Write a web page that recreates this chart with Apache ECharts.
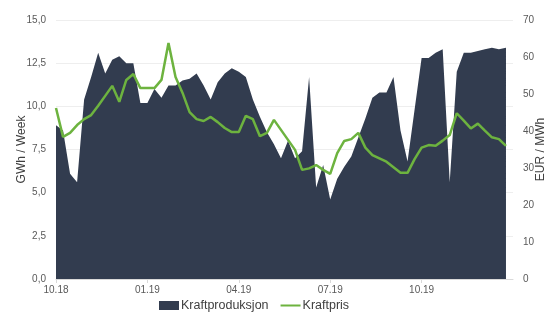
<!DOCTYPE html>
<html><head><meta charset="utf-8">
<script src="https://cdn.jsdelivr.net/npm/echarts@6/dist/echarts.min.js"></script>
<style>html,body{margin:0;padding:0;background:#fff}#c{width:551px;height:322px}</style>
</head><body><div id="c"></div>
<script>
const tickLabels = ['10.18','01.19','04.19','07.19','10.19'];
const weeks = 66;
const production = [8.9,8.6,6.1,5.6,10.4,11.7,13.1,11.9,12.7,12.9,12.5,12.5,10.2,10.2,11.0,10.5,11.2,11.2,11.5,11.6,11.9,11.2,10.4,11.4,11.9,12.2,12.0,11.7,10.4,9.4,8.5,7.8,7.0,8.0,7.0,7.4,11.7,5.3,6.6,4.6,5.8,6.5,7.1,8.2,9.3,10.5,10.8,10.8,11.7,8.6,6.8,9.8,12.8,12.8,13.1,13.3,5.6,12.0,13.1,13.1,13.2,13.3,13.4,13.3,13.4];
const price = [46.2,38.4,39.5,41.6,43.2,44.3,46.8,49.5,52.2,47.9,53.8,55.4,51.6,51.6,51.6,53.8,63.8,54.6,50.3,45.1,43.2,42.7,43.8,42.4,40.8,39.7,39.7,44.1,43.2,38.6,39.5,43.0,40.3,37.6,34.9,29.5,29.9,30.8,29.5,28.4,34.0,37.3,37.8,39.5,35.5,33.5,32.6,31.7,30.2,28.7,28.7,32.4,35.5,36.2,36.0,37.4,38.9,44.8,42.8,40.7,42.0,40.1,38.3,37.8,36.0];
const categories = [];
for (let i = 0; i < weeks; i++) categories.push(i % 13 === 0 && tickLabels[i / 13] ? tickLabels[i / 13] : '');
const isTick = (i) => i % 13 === 0 && i < 60;

const chart = echarts.init(document.getElementById('c'), null, {renderer: 'canvas'});
const lbl = {color: '#595959', fontSize: 10, fontFamily: 'Liberation Sans, Arial, sans-serif'};
chart.setOption({
  animation: false,
  grid: {left: 56, right: 38, top: 20, bottom: 43, outerBoundsMode: 'none', containLabel: false},
  legend: {
    bottom: 5, left: 154, itemGap: 12, itemWidth: 20, itemHeight: 9,
    textStyle: {color: '#404040', fontSize: 12.5, fontFamily: 'Liberation Sans, Arial, sans-serif', padding: [0, 0, 0, -3]},
    data: [
      {name: 'Kraftproduksjon', icon: 'rect'},
      {name: 'Kraftpris', icon: 'path://M0,0 L20,0 L20,2 L0,2 Z', itemStyle: {color: '#6db33f'}}
    ]
  },
  xAxis: {
    type: 'category', boundaryGap: false, data: categories,
    axisLine: {lineStyle: {color: '#d9d9d9'}},
    axisTick: {show: true, interval: isTick, length: 4, lineStyle: {color: '#d9d9d9'}},
    axisLabel: Object.assign({interval: isTick, margin: 6}, lbl),
    splitLine: {show: false}
  },
  yAxis: [{
    type: 'value', min: 0, max: 15, interval: 2.5,
    name: 'GWh / Week', nameLocation: 'middle', nameGap: 28, nameRotate: 90, nameMoveOverlap: false,
    nameTextStyle: {color: '#404040', fontSize: 12, fontFamily: 'Liberation Sans, Arial, sans-serif'},
    axisLine: {show: false}, axisTick: {show: false},
    axisLabel: Object.assign({formatter: (v) => v.toFixed(1).replace('.', ','), margin: 10}, lbl),
    splitLine: {lineStyle: {color: '#eeeeee'}}
  }, {
    type: 'value', min: 0, max: 70, interval: 10,
    name: 'EUR / MWh', nameLocation: 'middle', nameGap: 22, nameRotate: 90, nameMoveOverlap: false,
    nameTextStyle: {color: '#404040', fontSize: 12, fontFamily: 'Liberation Sans, Arial, sans-serif'},
    axisLine: {show: false}, axisTick: {show: false},
    axisLabel: Object.assign({margin: 10}, lbl),
    splitLine: {show: false}
  }],
  series: [{
    name: 'Kraftproduksjon', type: 'line', yAxisIndex: 0, data: production,
    symbol: 'none', lineStyle: {width: 0}, itemStyle: {color: '#323c4f'},
    areaStyle: {color: '#323c4f', opacity: 1}
  }, {
    name: 'Kraftpris', type: 'line', yAxisIndex: 1, data: price,
    symbol: 'none', lineStyle: {width: 2.5, color: '#6db33f'}, itemStyle: {color: '#6db33f'}
  }]
});
</script></body></html>
